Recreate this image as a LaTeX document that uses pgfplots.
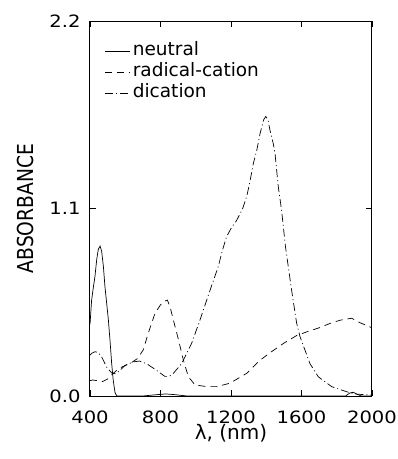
\documentclass[border=0pt]{standalone}
\usepackage{fontspec}
\setmainfont{DejaVu Sans}
\usepackage{graphicx}
\usepackage{pgfplots}
\pgfplotsset{compat=1.18}
\newcommand{\tl}[1]{\scalebox{1.15}[1]{#1}}
\begin{document}
\begin{tikzpicture}
\begin{axis}[
  scale only axis,
  width=282pt, height=375pt,
  xmin=400, xmax=2000, ymin=0, ymax=2.2,
  xtick={400,800,1200,1600,2000},
  xticklabels={\tl{400},\tl{800},\tl{1200},\tl{1600},\tl{2000}},
  ytick={0,1.1,2.2},
  yticklabels={\tl{0.0},\tl{1.1},\tl{2.2}},
  /pgf/number format/assume math mode=true,
  tick label style={font=\fontsize{17}{20}\selectfont},
  yticklabel shift=6pt,
  xticklabel shift=11pt,
  tick align=inside,
  major tick length=6pt,
  tick style={black, line width=0.6pt},
  axis line style={line width=1pt},
  xlabel={\fontsize{20}{24}\selectfont λ, (nm)},
  ylabel={\scalebox{0.85}[1]{\fontsize{22}{26}\selectfont ABSORBANCE}},
  xlabel style={at={(rel axis cs:0.5,-0.1)}, anchor=center},
  ylabel style={at={(rel axis cs:-0.227,0.5)}, anchor=center},
  legend style={at={(rel axis cs:0.053,0.948)}, anchor=north west,
    draw=none, fill=none, inner sep=0pt,
    font=\fontsize{18.5}{22}\selectfont,
    nodes={inner sep=2pt, text height=13pt, text depth=4pt},
    row sep=0pt},
  legend cell align=left,
  legend image code/.code={\draw[#1] (0pt,0pt) -- (25pt,0pt);},
  /tikz/every even column/.append style={column sep=7pt},
]
\coordinate (o) at (rel axis cs:0,0);
% neutral
\addplot[black, line width=0.7pt] coordinates {
(400,0.42) (409,0.56) (418,0.63) (428,0.70) (438,0.80) (447,0.86) (457,0.88)
(466,0.85) (476,0.76) (485,0.64) (495,0.54) (504,0.45) (514,0.32) (523,0.19)
(532,0.09) (542,0.02) (552,0.0) (700,0.0) (780,0.008) (830,0.012) (880,0.008)
(950,0.0) (1850,0.0) (1875,0.018) (1895,0.022) (1915,0.01) (1940,0.0) (2000,0.0)
};
\addlegendentry{neutral}
% radical-cation
\addplot[black, line width=0.7pt, dash pattern=on 7pt off 5pt] coordinates {
(400,0.09) (415,0.094) (440,0.09) (472,0.085) (500,0.10) (529,0.13) (551,0.15)
(580,0.17) (627,0.19) (670,0.22) (702,0.27) (731,0.37) (769,0.485) (800,0.535)
(820,0.555) (839,0.563) (855,0.52) (873,0.446) (902,0.33) (930,0.21) (958,0.113)
(996,0.065) (1062,0.055) (1119,0.055) (1194,0.075) (1289,0.133) (1365,0.21)
(1430,0.26) (1500,0.31) (1573,0.355) (1640,0.38) (1700,0.40) (1760,0.425)
(1820,0.445) (1885,0.456) (1932,0.43) (2000,0.40)
};
\addlegendentry{radical-cation}
% dication
\addplot[black, line width=0.7pt, dash pattern=on 8pt off 3pt on 1pt off 3pt] coordinates {
(400,0.24) (409,0.25) (428,0.26) (446,0.255) (466,0.23) (494,0.17) (523,0.135)
(545,0.13) (570,0.15) (599,0.18) (645,0.20) (680,0.205) (721,0.19) (778,0.15)
(825,0.115) (850,0.115) (873,0.133) (920,0.19) (977,0.31) (1024,0.446)
(1081,0.62) (1128,0.76) (1150,0.85) (1175,0.935) (1204,0.99) (1232,1.03)
(1266,1.10) (1289,1.17) (1304,1.24) (1317,1.31) (1327,1.365) (1346,1.44)
(1365,1.54) (1385,1.62) (1397,1.64) (1410,1.62) (1421,1.56) (1440,1.48)
(1450,1.42) (1468,1.23) (1487,1.09) (1509,0.876) (1544,0.62) (1572,0.43)
(1591,0.35) (1648,0.19) (1695,0.113) (1771,0.055) (1856,0.025) (1900,0.012)
(2000,0.005)
};
\addlegendentry{dication}
\end{axis}
\pgfresetboundingbox
\useasboundingbox (o) ++(-90pt,-63pt) rectangle ++(398pt,459pt);
\end{tikzpicture}
\end{document}
